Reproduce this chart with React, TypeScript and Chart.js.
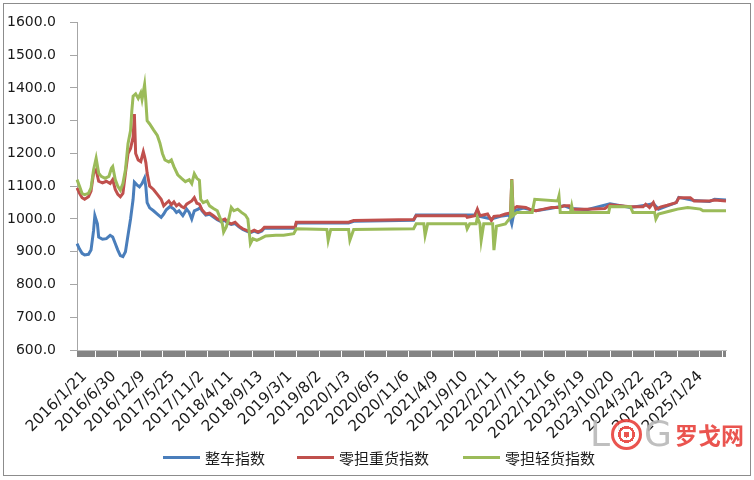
import React, { useEffect, useRef } from "react";
import { Chart, registerables } from "chart.js";

Chart.register(...registerables);

// weekly index points, label every 23 weeks
const POINT_COUNT = 510;
const LABEL_EVERY = 23;

const tickLabels = [
  "2016/1/21", "2016/6/30", "2016/12/9", "2017/5/25", "2017/11/2", "2018/4/11",
  "2018/9/13", "2019/3/1", "2019/8/2", "2020/1/3", "2020/6/5", "2020/11/6",
  "2021/4/9", "2021/9/10", "2022/2/11", "2022/7/15", "2022/12/16", "2023/5/19",
  "2023/10/20", "2024/3/22", "2024/8/23", "2025/1/24",
];

const seriesNames = ["整车指数", "零担重货指数", "零担轻货指数"];
const seriesColors = ["#4a7ebb", "#c0504d", "#9bbb59"];

// [week index, value]
const truckPoints: [number, number][] = [
  [0, 925], [2, 908], [4, 895], [6, 890], [9, 892], [11, 905], [13, 965], [14, 1010],
  [16, 985], [17, 945], [20, 938], [23, 940], [26, 950], [28, 945], [30, 925], [32, 905],
  [34, 888], [36, 885], [38, 900], [40, 950], [42, 1000], [44, 1060], [45, 1112], [47, 1104],
  [49, 1098], [51, 1108], [53, 1125], [54, 1098], [55, 1050], [57, 1034], [60, 1025], [63, 1015],
  [66, 1005], [68, 1015], [70, 1028], [73, 1038], [76, 1030], [78, 1020], [80, 1025], [83, 1010],
  [86, 1030], [88, 1020], [90, 1000], [92, 1025], [95, 1030], [97, 1035], [98, 1025], [101, 1012],
  [104, 1014], [107, 1006], [110, 998], [113, 992], [116, 996], [118, 988], [121, 983], [124, 986],
  [127, 976], [130, 968], [133, 963], [136, 958], [139, 963], [142, 958], [145, 963], [147, 972],
  [171, 972], [172, 988], [213, 988], [217, 993], [264, 996], [266, 1012], [305, 1012], [312, 1012],
  [314, 1026], [316, 1008], [325, 1000], [332, 1008], [339, 1012], [341, 985], [343, 1025], [350, 1033],
  [360, 1025], [372, 1033], [382, 1040], [388, 1032], [400, 1028], [418, 1046], [434, 1035], [446, 1042],
  [452, 1047], [456, 1030], [463, 1040], [470, 1050], [472, 1066], [484, 1056], [496, 1053], [500, 1060],
  [509, 1058],
];

const heavyPoints: [number, number][] = [
  [0, 1095], [2, 1078], [4, 1065], [6, 1060], [9, 1068], [11, 1085], [13, 1140], [15, 1150],
  [17, 1115], [20, 1110], [23, 1115], [26, 1108], [28, 1120], [30, 1090], [32, 1075], [34, 1068],
  [36, 1078], [38, 1140], [40, 1200], [42, 1215], [44, 1250], [45, 1320], [46, 1200], [48, 1180],
  [50, 1175], [52, 1205], [53, 1190], [54, 1172], [55, 1140], [57, 1100], [60, 1090], [63, 1075],
  [66, 1060], [68, 1040], [70, 1048], [72, 1055], [74, 1044], [76, 1052], [78, 1040], [80, 1046],
  [82, 1038], [84, 1034], [86, 1045], [88, 1050], [90, 1055], [92, 1065], [94, 1048], [96, 1045],
  [98, 1028], [101, 1015], [104, 1018], [107, 1010], [110, 1000], [113, 995], [116, 1000], [118, 990],
  [121, 985], [124, 990], [127, 978], [130, 970], [133, 965], [136, 960], [139, 966], [142, 960],
  [145, 966], [147, 975], [171, 975], [172, 990], [213, 990], [217, 995], [264, 998], [266, 1010],
  [305, 1010], [306, 1005], [312, 1010], [314, 1030], [316, 1010], [322, 1015], [325, 995], [327, 1008],
  [332, 1010], [336, 1015], [340, 1018], [341, 1122], [342, 1030], [345, 1038], [352, 1035], [356, 1028],
  [360, 1025], [366, 1030], [372, 1035], [378, 1035], [382, 1040], [386, 1040], [388, 1030], [400, 1030],
  [414, 1032], [418, 1043], [426, 1040], [434, 1037], [444, 1037], [446, 1045], [449, 1035], [452, 1050],
  [454, 1030], [458, 1037], [463, 1042], [470, 1050], [472, 1065], [481, 1065], [484, 1055], [496, 1055],
  [500, 1058], [509, 1055],
];

const lightPoints: [number, number][] = [
  [0, 1120], [2, 1100], [4, 1078], [6, 1074], [9, 1078], [11, 1095], [13, 1150], [15, 1185],
  [17, 1140], [19, 1130], [22, 1124], [25, 1130], [27, 1155], [28, 1160], [30, 1120], [32, 1100],
  [34, 1088], [36, 1108], [38, 1150], [40, 1230], [42, 1270], [43, 1330], [44, 1375], [46, 1382],
  [48, 1368], [50, 1385], [51, 1365], [53, 1410], [54, 1360], [55, 1300], [57, 1290], [60, 1272],
  [63, 1255], [65, 1232], [67, 1200], [69, 1180], [72, 1174], [74, 1180], [76, 1160], [79, 1135],
  [82, 1124], [85, 1114], [88, 1120], [90, 1108], [92, 1138], [94, 1124], [96, 1118], [97, 1060],
  [99, 1050], [102, 1055], [104, 1040], [107, 1032], [110, 1025], [112, 1005], [114, 985], [115, 960],
  [117, 975], [119, 1000], [121, 1035], [123, 1025], [126, 1030], [129, 1020], [132, 1012], [134, 1000],
  [136, 925], [138, 940], [141, 935], [144, 940], [148, 948], [156, 950], [162, 950], [170, 955],
  [172, 970], [196, 968], [197, 935], [199, 968], [213, 968], [214, 935], [217, 968], [264, 970],
  [266, 985], [272, 985], [273, 950], [275, 985], [305, 985], [306, 970], [308, 985], [313, 985],
  [314, 1005], [316, 985], [317, 935], [319, 985], [326, 985], [327, 905], [329, 978], [336, 985],
  [340, 1005], [341, 1120], [342, 1010], [345, 1020], [357, 1020], [359, 1060], [377, 1055], [378, 1070],
  [379, 1020], [387, 1020], [388, 1040], [389, 1020], [417, 1020], [418, 1038], [434, 1037], [436, 1020],
  [453, 1020], [454, 1000], [456, 1015], [466, 1025], [471, 1030], [479, 1035], [489, 1030], [491, 1025],
  [509, 1025],
];

const AXIS_FONT = "'DejaVu Sans', Verdana, sans-serif";

// grey tick band under the x axis plus the rotated date labels
const xAxisDecor = {
  id: "xAxisDecor",
  afterDraw(chart: any) {
    const { ctx, chartArea } = chart;
    const xs = chart.scales.x;
    const top = chartArea.bottom + 1;
    ctx.save();
    ctx.fillStyle = "#848484";
    ctx.fillRect(chartArea.left, top, chartArea.right - chartArea.left, 6);
    ctx.fillStyle = "#ffffff";
    for (let px = chartArea.left + 18; px < chartArea.right - 1; px += 22.38) {
      ctx.fillRect(Math.round(px), top, 1, 6);
    }
    ctx.fillStyle = "#1a1a1a";
    ctx.font = `15.3px ${AXIS_FONT}`;
    ctx.textAlign = "right";
    ctx.textBaseline = "middle";
    tickLabels.forEach((text, i) => {
      const px = xs.getPixelForValue(i * LABEL_EVERY);
      ctx.save();
      ctx.translate(px + 7.5, chartArea.bottom + 24);
      ctx.rotate(-Math.PI / 4);
      ctx.fillText(text, 0, 0);
      ctx.restore();
    });
    ctx.restore();
  },
};

export default function App() {
  const canvasRef = useRef<HTMLCanvasElement>(null);

  useEffect(() => {
    if (!canvasRef.current) return;
    const toXY = (pts: [number, number][]) => pts.map(([x, y]) => ({ x, y }));
    const allSeries = [truckPoints, heavyPoints, lightPoints];
    const chart = new Chart(canvasRef.current, {
      type: "line",
      data: {
        labels: Array.from({ length: POINT_COUNT }, (_, i) => i),
        datasets: allSeries.map((pts, i) => ({
          label: seriesNames[i],
          data: toXY(pts),
          borderColor: seriesColors[i],
          backgroundColor: seriesColors[i],
          borderWidth: 3,
          pointRadius: 0,
          tension: 0,
          order: 2 - i, // green on top, blue underneath
        })),
      },
      options: {
        responsive: false,
        animation: false,
        layout: { padding: { top: 16, right: 28, left: 0, bottom: 0 } },
        plugins: { legend: { display: false }, tooltip: { enabled: false } },
        scales: {
          x: {
            type: "category",
            offset: false,
            afterFit: (s: any) => {
              s.height = 130;
            },
            border: { color: "#bfbfbf", width: 1 },
            grid: { display: false },
            ticks: { display: false },
          },
          y: {
            min: 600,
            max: 1600,
            afterFit: (s: any) => {
              s.width = 77;
            },
            border: { color: "#a6a6a6", width: 1 },
            grid: { drawOnChartArea: false, tickLength: 7, tickColor: "#a6a6a6" },
            ticks: {
              stepSize: 100,
              padding: 14,
              color: "#1a1a1a",
              font: { family: AXIS_FONT, size: 14 },
              callback: (v: any) => Number(v).toFixed(1),
            },
          },
        },
      },
      plugins: [xAxisDecor],
    });
    return () => {
      chart.destroy();
    };
  }, []);

  return (
    <div style={{ position: "absolute", left: 0, top: 0, width: 754, height: 480, background: "#fff", overflow: "hidden" }}>
      <div style={{ position: "absolute", left: 3, top: 3, width: 746, height: 471, border: "1px solid #8c8c8c" }} />
      <canvas ref={canvasRef} width={754} height={480} style={{ position: "absolute", left: 0, top: 0 }} />
      {/* watermark logo */}
      <div style={{ position: "absolute", left: 590, top: 414, height: 40, display: "flex", alignItems: "center", whiteSpace: "nowrap", opacity: 0.9, fontFamily: "'DejaVu Sans', sans-serif" }}>
        <span style={{ color: "#b8b8b8", fontSize: 36, lineHeight: "40px" }}>L</span>
        <span style={{ display: "inline-block", width: 25, height: 25, margin: "0 2px 0 1px", borderRadius: "50%", border: "3px solid #e8423c", background: "radial-gradient(circle, #e8423c 0 3px, #fff 3px 6px, #e8423c 6px 8.5px, #fff 8.5px)" }} />
        <span style={{ color: "#b8b8b8", fontSize: 36, lineHeight: "40px" }}>G</span>
        <span style={{ color: "#e8423c", fontSize: 23, fontWeight: 700, marginLeft: 3, fontFamily: "'Noto Sans CJK SC', sans-serif" }}>罗戈网</span>
      </div>
      {/* legend */}
      <div style={{ position: "absolute", left: 163, top: 447, display: "flex", alignItems: "center", whiteSpace: "nowrap", fontFamily: "'Noto Sans CJK SC', sans-serif", fontSize: 15, color: "#1a1a1a" }}>
        {seriesNames.map((name, i) => (
          <div key={name} style={{ display: "flex", alignItems: "center", marginRight: i === 0 ? 32 : 34 }}>
            <span style={{ display: "inline-block", width: 37, height: 3, background: seriesColors[i], marginRight: 5 }} />
            <span>{name}</span>
          </div>
        ))}
      </div>
    </div>
  );
}
